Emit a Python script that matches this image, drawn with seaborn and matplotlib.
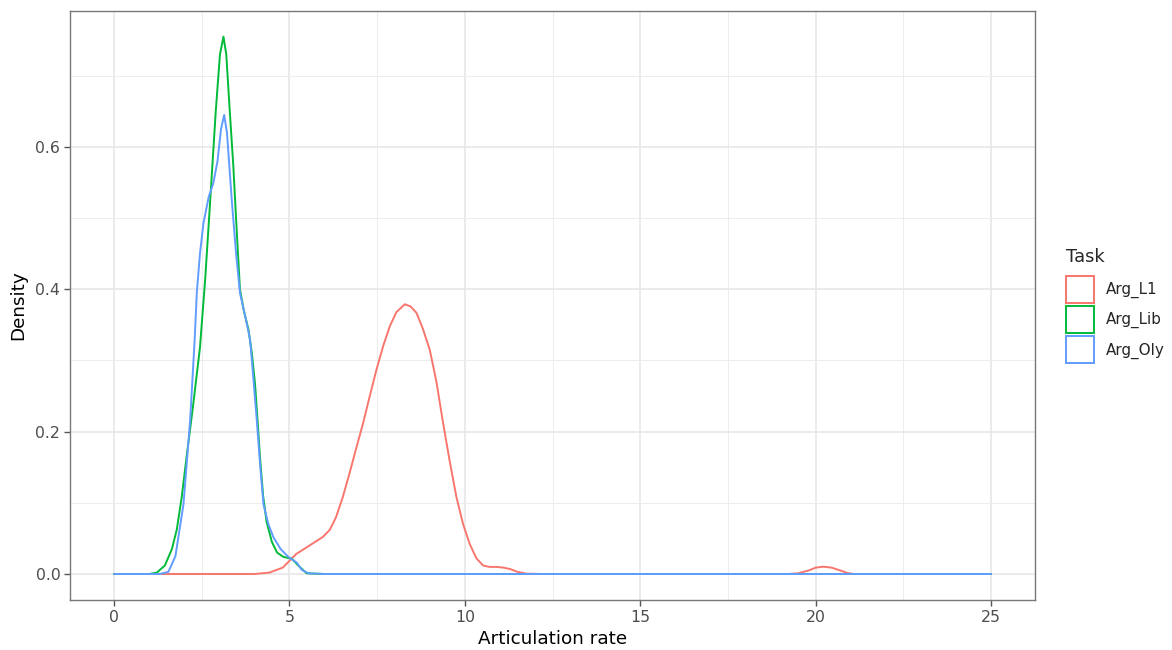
import matplotlib
matplotlib.use("Agg")
import matplotlib.pyplot as plt
from matplotlib.patches import Patch
import seaborn as sns
import pandas as pd

tasks = ["Arg_L1", "Arg_Lib", "Arg_Oly"]
colors = ["#F8766D", "#00BA38", "#619CFF"]

l1_x = [0, 4.0, 4.43, 4.81, 5.19, 5.57, 5.95, 6.15, 6.33, 6.52, 6.71, 6.9, 7.10, 7.29, 7.48,
        7.67, 7.86, 8.05, 8.29, 8.45, 8.62, 8.8, 9.0, 9.19, 9.38, 9.57, 9.76, 9.95, 10.14,
        10.33, 10.52, 10.7, 10.9, 11.1, 11.29, 11.5, 11.76, 12.2, 19.2, 19.5, 19.8, 20.0,
        20.22, 20.45, 20.7, 20.9, 21.1, 25]
l1_y = [0, 0, 0.002, 0.009, 0.028, 0.040, 0.052, 0.062, 0.080, 0.108, 0.141, 0.176, 0.212,
        0.250, 0.287, 0.320, 0.348, 0.368, 0.379, 0.376, 0.367, 0.345, 0.315, 0.270, 0.212,
        0.158, 0.108, 0.070, 0.042, 0.022, 0.012, 0.010, 0.010, 0.009, 0.007, 0.003, 0.0005,
        0, 0, 0.001, 0.005, 0.009, 0.0103, 0.009, 0.005, 0.0015, 0, 0]

lib_x = [0, 1.0, 1.22, 1.45, 1.65, 1.79, 1.93, 2.07, 2.25, 2.45, 2.6, 2.74, 2.9, 3.02, 3.12,
         3.2, 3.30, 3.40, 3.5, 3.59, 3.7, 3.83, 3.93, 4.02, 4.1, 4.16, 4.25, 4.35, 4.5, 4.65,
         4.83, 5.07, 5.25, 5.49, 6.0, 25]
lib_y = [0, 0, 0.002, 0.012, 0.035, 0.0625, 0.108, 0.165, 0.235, 0.318, 0.415, 0.523, 0.650,
         0.730, 0.755, 0.730, 0.650, 0.574, 0.480, 0.400, 0.370, 0.344, 0.310, 0.267, 0.210,
         0.165, 0.110, 0.073, 0.045, 0.030, 0.024, 0.0215, 0.012, 0.001, 0, 0]

oly_x = [0, 1.3, 1.55, 1.75, 1.98, 2.17, 2.3, 2.36, 2.45, 2.55, 2.7, 2.83, 2.95, 3.05, 3.14,
         3.22, 3.36, 3.48, 3.59, 3.75, 3.88, 3.98, 4.07, 4.17, 4.26, 4.4, 4.54, 4.75, 4.97,
         5.21, 5.35, 5.54, 6.0, 25]
oly_y = [0, 0, 0.003, 0.025, 0.098, 0.216, 0.330, 0.395, 0.450, 0.493, 0.530, 0.549, 0.580,
         0.625, 0.645, 0.620, 0.523, 0.450, 0.395, 0.360, 0.329, 0.270, 0.216, 0.150, 0.098,
         0.070, 0.052, 0.035, 0.024, 0.016, 0.006, 0.001, 0, 0]

x_ticks = [0, 5, 10, 15, 20, 25]
y_ticks = [0.0, 0.2, 0.4, 0.6]
y_tick_labels = ["0.0", "0.2", "0.4", "0.6"]

frames = []
for t, xs, ys in zip(tasks, [l1_x, lib_x, oly_x], [l1_y, lib_y, oly_y]):
    d = pd.DataFrame({"x": xs, "y": ys})
    d["Task"] = t
    frames.append(d)
df = pd.concat(frames, ignore_index=True)

sns.set_style("white")
plt.rcParams["font.family"] = ["DejaVu Sans"]

fig = plt.figure(figsize=(11.72, 6.5), dpi=100)
ax = fig.add_axes([70 / 1172, 1 - 600 / 650, (1035 - 70) / 1172, (600 - 11) / 650])

sns.lineplot(data=df, x="x", y="y", hue="Task", hue_order=tasks, palette=colors,
             sort=False, estimator=None, units="Task", linewidth=1.4, legend=False, ax=ax,
             zorder=3)

ax.set_xlim(-1.254, 26.25)
ax.set_ylim(-0.0365, 0.791)
ax.set_xticks(x_ticks)
ax.set_xticklabels([str(v) for v in x_ticks])
ax.set_yticks(y_ticks)
ax.set_yticklabels(y_tick_labels)
ax.set_xticks([2.5, 7.5, 12.5, 17.5, 22.5], minor=True)
ax.set_yticks([0.1, 0.3, 0.5, 0.7], minor=True)
ax.grid(which="major", color="#E8E8E8", linewidth=1.2, zorder=0)
ax.grid(which="minor", color="#EDEDED", linewidth=0.7, zorder=0)
ax.set_axisbelow(True)
ax.tick_params(which="major", length=4, width=1.0, color="#555555", labelcolor="#4D4D4D",
               labelsize=11.3, direction="out", bottom=True, left=True, pad=3)
ax.tick_params(which="minor", length=0)
for s in ax.spines.values():
    s.set_color("#777777")
    s.set_linewidth(1.0)

ax.set_xlabel("Articulation rate", fontsize=13.2, color="black", labelpad=4)
ax.set_ylabel("Density", fontsize=13.2, color="black", labelpad=6)

handles = [Patch(facecolor="white", edgecolor=c, linewidth=1.4, label=t)
           for t, c in zip(tasks, colors)]
leg = fig.legend(handles=handles, title="Task", loc="upper left",
                 bbox_to_anchor=(1060 / 1172, 1 - 242 / 650), frameon=False,
                 fontsize=10.9, title_fontsize=12.8, handlelength=1.85, handleheight=2.36,
                 handletextpad=0.75, labelspacing=0.22, borderaxespad=0)
leg._legend_box.align = "left"
leg._legend_box.sep = 7

fig.savefig("out.png", dpi=100)
